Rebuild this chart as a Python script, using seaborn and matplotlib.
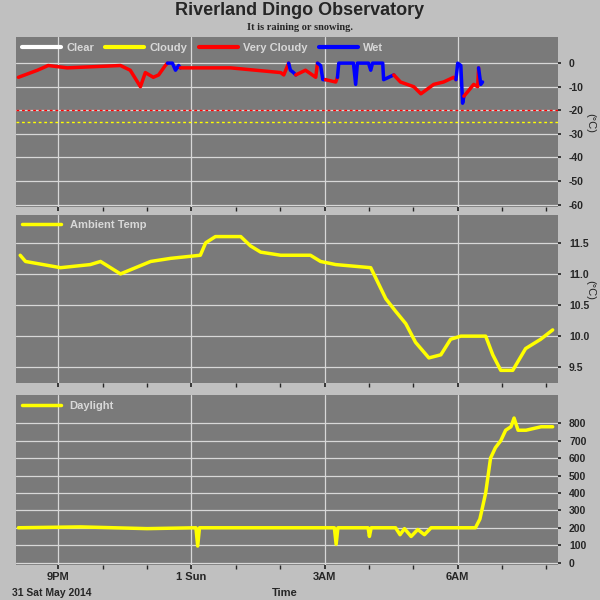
import matplotlib
matplotlib.use("Agg")
import matplotlib.pyplot as plt
import seaborn as sns
import pandas as pd
from matplotlib.lines import Line2D

# ---- data (time in hours since 31 May 00:00) ----
sky_t = [20.10,20.53,20.77,21.20,22.40,22.62,22.85,22.96,23.14,23.26,23.41,
         23.46,23.57,23.64,23.71,
         23.75,24.88,26.01,26.08,
         26.19,26.23,26.30,
         26.35,26.57,26.80,
         26.84,26.91,26.96,
         27.02,27.25,
         27.29,27.32,27.65,27.70,27.74,27.99,28.04,28.08,28.31,28.33,
         28.56,28.71,29.01,29.17,29.46,29.68,29.91,
         29.96,30.00,30.07,30.11,
         30.14,30.23,30.36,30.45,
         30.47,30.52,30.56]
sky_v = [-6,-3,-1,-2,-1,-3,-10,-4,-6,-5,-1,
         0,0,-3,-1,
         -2,-2,-4,-5,
         0,-3,-4,
         -5,-3,-6,
         0,-1,-7,
         -7,-8,
         -6,0,0,-9,0,0,-3,0,0,-7,
         -5,-8,-10,-13,-9,-8,-6,
         -7,0,-1,-17,
         -14,-12,-9,-10,
         -2,-9,-8]
sky_s = (["Very Cloudy"]*11 + ["Wet"]*4 + ["Very Cloudy"]*4 + ["Wet"]*3 +
         ["Very Cloudy"]*3 + ["Wet"]*3 + ["Very Cloudy"]*2 + ["Wet"]*10 +
         ["Very Cloudy"]*7 + ["Wet"]*4 + ["Very Cloudy"]*4 + ["Wet"]*3)

amb_t = [20.14,20.26,21.05,21.72,21.95,22.40,22.74,23.08,23.53,24.20,24.32,24.54,
         25.11,25.33,25.56,26.01,26.68,26.91,27.25,28.04,28.38,28.60,28.83,29.05,
         29.35,29.62,29.84,30.07,30.63,30.79,30.97,31.24,31.53,31.87,32.14]
amb_v = [11.3,11.2,11.1,11.15,11.2,11.0,11.1,11.2,11.25,11.3,11.5,11.6,
         11.6,11.45,11.35,11.3,11.3,11.2,11.15,11.1,10.6,10.4,10.2,9.9,
         9.65,9.7,9.95,10.0,10.0,9.7,9.45,9.45,9.8,9.95,10.1]

day_t = [20.10,21.50,23.00,24.10,24.14,24.18,24.25,25.50,27.00,27.22,27.26,27.30,
         27.98,28.01,28.05,28.60,28.70,28.80,28.95,29.10,29.25,29.40,29.50,
         30.40,30.50,30.63,30.74,30.85,30.97,31.08,31.20,31.27,31.36,31.54,31.88,32.14]
day_v = [200,205,195,200,95,200,200,200,200,200,105,200,
         200,150,200,200,160,195,150,190,160,200,200,
         200,250,400,600,660,700,760,780,830,760,760,780,780]

title = "Riverland Dingo Observatory"
subtitle = "It is raining or snowing."
xtick_pos = [21, 24, 27, 30]
xtick_lab = ["9PM", "1 Sun", "3AM", "6AM"]
sky_states = ["Clear", "Cloudy", "Very Cloudy", "Wet"]
sky_colors = ["white", "yellow", "red", "blue"]

sns.set_theme(style="dark")
plt.rcParams['font.family'] = ['Liberation Sans', 'DejaVu Sans']
plt.rcParams['axes.unicode_minus'] = False

fig = plt.figure(figsize=(6, 6), dpi=100, facecolor="#c0c0c0")
fig.text(0.5, 0.982, title, ha="center", va="center", fontsize=13, fontweight="bold")
fig.text(0.5, 0.955, subtitle, ha="center", va="center", fontsize=7.5,
         fontweight="bold", family="Liberation Serif")

L, W = 0.027, 0.903
ax1 = fig.add_axes([L, 0.655, W, 0.283])
ax2 = fig.add_axes([L, 0.362, W, 0.280])
ax3 = fig.add_axes([L, 0.058, W, 0.283])

for ax in (ax1, ax2, ax3):
    ax.set_facecolor("#7a7a7a")
    ax.set_xlim(20.05, 32.26)
    ax.yaxis.tick_right()
    ax.set_xticks(xtick_pos)
    ax.set_xticks([h for h in range(21, 33)], minor=True)
    ax.grid(True, which="major", color="#d8d8d8", lw=0.9)
    ax.tick_params(axis="y", labelsize=7.5, length=2, right=True, pad=6)
    ax.tick_params(axis="x", which="both", length=3, bottom=True)
    for s in ax.spines.values():
        s.set_visible(False)

# top panel
df = pd.DataFrame({"t": sky_t, "v": sky_v, "s": sky_s})
seg = (df["s"] != df["s"].shift()).cumsum()
groups = list(df.groupby(seg))
for i, (_, g) in enumerate(groups):
    if i + 1 < len(groups):
        g = pd.concat([g, groups[i + 1][1].iloc[:1]])
    col = sky_colors[sky_states.index(g["s"].iloc[0])]
    sns.lineplot(x=g["t"], y=g["v"], ax=ax1, color=col, lw=2.5, sort=False,
                 estimator=None)
ax1.axhline(-20, color="red", ls=(0, (2, 2)), lw=1)
ax1.axhline(-25, color="yellow", ls=(0, (2, 2)), lw=1)
ax1.set_ylim(-61, 11)
ax1.set_yticks(range(-60, 1, 10))
ax1.legend([Line2D([], [], color=c, lw=3) for c in sky_colors], sky_states,
           loc="upper left", ncol=4, frameon=False, labelcolor="#d8d8d8",
           handlelength=3.5, borderaxespad=0.1, columnspacing=1.0, handletextpad=0.5,
           prop={"weight": "bold", "size": 8})

# ambient
sns.lineplot(x=amb_t, y=amb_v, ax=ax2, color="yellow", lw=2.5,
             estimator=None, label="Ambient Temp")
ax2.set_ylim(9.25, 11.95)
ax2.set_yticks([9.5, 10.0, 10.5, 11.0, 11.5])
ax2.legend(loc="upper left", frameon=False, labelcolor="#d8d8d8", handlelength=3.5,
           borderaxespad=0.1, prop={"weight": "bold", "size": 8})

# daylight
sns.lineplot(x=day_t, y=day_v, ax=ax3, color="yellow", lw=2.5, estimator=None,
             sort=False, label="Daylight")
ax3.set_ylim(-15, 960)
ax3.set_yticks(range(0, 801, 100))
ax3.legend(loc="upper left", frameon=False, labelcolor="#d8d8d8", handlelength=3.5,
           borderaxespad=0.1, prop={"weight": "bold", "size": 8})

for ax in (ax1, ax2, ax3):
    ax.set_xlabel(""); ax.set_ylabel("")
    for lab in ax.get_yticklabels():
        lab.set_fontweight("bold")
ax1.set_xticklabels([]); ax2.set_xticklabels([])
ax3.set_xticklabels(xtick_lab, fontsize=8, fontweight="bold")
ax3.tick_params(axis="x", pad=2)

fig.text(0.984, 0.795, "(°C)", rotation=-90, ha="center", va="center", fontsize=8)
fig.text(0.984, 0.517, "(°C)", rotation=-90, ha="center", va="center", fontsize=8)
fig.text(0.02, 0.006, "31 Sat May 2014", fontsize=7.5, fontweight="bold")
fig.text(0.475, 0.006, "Time", fontsize=8, fontweight="bold", ha="center")

fig.savefig("out.png", dpi=100, facecolor=fig.get_facecolor())
